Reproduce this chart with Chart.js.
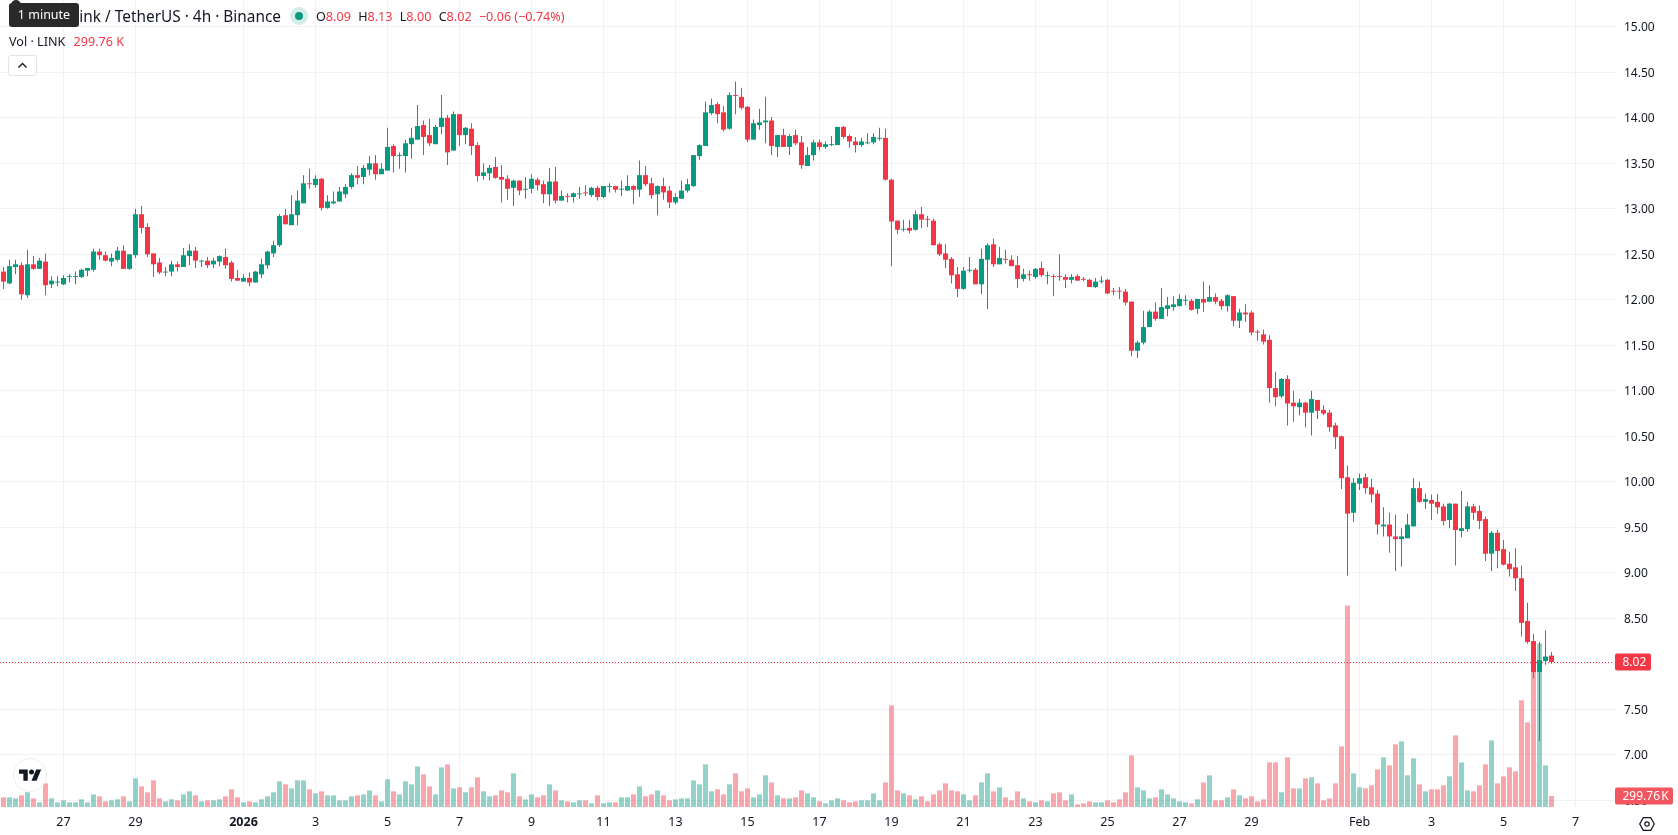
<!DOCTYPE html>
<html>
<head>
<meta charset="utf-8">
<title>LINK / USDT 4h</title>
<script src="https://cdn.jsdelivr.net/npm/chart.js@4"></script>
<style>
    html, body { margin: 0; padding: 0; background: #fff; overflow: hidden; }
    #wrap { position: relative; width: 1678px; height: 835px; font-family: "Noto Sans", sans-serif; color: #131722; }
    #wrap canvas { position: absolute; left: 0; top: 0; }
    .abs { position: absolute; white-space: nowrap; }
    .up { color: #f23645; }
    #title { right: 1397px; top: 6px; font-size: 15.4px; line-height: 22px; }
    #tip { left: 9px; top: 3px; width: 70px; height: 24px; line-height: 23px; background: #2a2a2a; border-radius: 3px; color: #fff; font-size: 12.5px; text-align: center; }
    #notch { left: 11px; top: 0; width: 10px; height: 6px; background: #2a2a2a; border-radius: 5px 5px 0 0; }
    #dot { left: 290px; top: 7px; width: 18px; height: 18px; border-radius: 50%; background: #d3eee9; }
    #dot i { position: absolute; left: 5px; top: 5px; width: 8px; height: 8px; border-radius: 50%; background: #089981; }
    #ohlc { left: 316px; top: 7px; font-size: 12.6px; line-height: 20px; }
    #ohlc span { margin-right: 4px; }
    #vol { left: 9px; top: 32px; font-size: 12.6px; line-height: 20px; }
    #collapse { left: 8px; top: 55px; width: 27px; height: 19px; border: 1px solid #e0e3eb; border-radius: 3px; background: #fff; }
    #logo { left: 13px; top: 758px; width: 32px; height: 32px; border: 1px solid #ececec; border-radius: 50%; background: #fff; }
    #gear { left: 1639px; top: 814px; }
</style>
</head>
<body>
<div id="wrap">
    <canvas id="chart" width="1678" height="835"></canvas>
    <div class="abs" id="title">Chainlink / TetherUS · 4h · Binance</div>
    <div class="abs" id="notch"></div>
    <div class="abs" id="tip">1 minute</div>
    <div class="abs" id="dot"><i></i></div>
    <div class="abs" id="ohlc">
        <span>O<b class="up" style="font-weight:400">8.09</b></span>
        <span>H<b class="up" style="font-weight:400">8.13</b></span>
        <span>L<b class="up" style="font-weight:400">8.00</b></span>
        <span>C<b class="up" style="font-weight:400">8.02</b></span>
        <span class="up">−0.06 (−0.74%)</span>
    </div>
    <div class="abs" id="vol">Vol · LINK <span class="up" style="margin-left:5px">299.76 K</span></div>
    <div class="abs" id="collapse">
        <svg width="27" height="19" viewBox="0 0 27 19"><path d="M9.5 11.5 13.5 7.5 17.5 11.5" fill="none" stroke="#131722" stroke-width="1.3"/></svg>
    </div>
    <div class="abs" id="logo">
        <svg style="position:absolute;left:5px;top:9px" width="22.5" height="14" viewBox="0 2 36 22"><path d="M14 22H7V11H0V4h14v18zM28 22h-8l7.5-18h8L28 22z" fill="#131722"/><circle cx="20" cy="8" r="4" fill="#131722"/></svg>
    </div>
    <div class="abs" id="gear">
        <svg width="16" height="14" viewBox="0 0 16 14"><path d="M4.3.7h7.4L15.3 7l-3.6 6.3H4.3L.7 7z" fill="none" stroke="#131722" stroke-width="1.2"/><circle cx="8" cy="7" r="2.2" fill="none" stroke="#131722" stroke-width="1.2"/></svg>
    </div>
</div>
<script>
// LINK/USDT 4h candles, oldest first
const opens = [
    12.31,12.18,12.36,12.38,12.05,12.39,12.34,12.42,12.17,12.19,
    12.17,12.25,12.25,12.25,12.32,12.33,12.53,12.49,12.42,12.44,
    12.54,12.34,12.49,12.94,12.80,12.51,12.41,12.30,12.31,12.39,
    12.36,12.48,12.54,12.42,12.43,12.39,12.42,12.47,12.41,12.24,
    12.20,12.24,12.19,12.28,12.38,12.51,12.60,12.93,12.82,12.93,
    13.06,13.28,13.26,13.33,13.01,13.06,13.08,13.16,13.24,13.37,
    13.35,13.43,13.50,13.38,13.42,13.69,13.58,13.58,13.71,13.76,
    13.92,13.81,13.71,13.90,14.00,13.64,14.04,13.81,13.88,13.70,
    13.36,13.39,13.46,13.35,13.33,13.23,13.31,13.21,13.22,13.32,
    13.27,13.16,13.30,13.09,13.14,13.13,13.16,13.18,13.15,13.23,
    13.13,13.24,13.25,13.21,13.20,13.25,13.21,13.37,13.28,13.16,
    13.25,13.20,13.07,13.11,13.20,13.25,13.58,13.69,14.05,14.15,
    14.06,13.88,14.25,14.23,14.12,13.76,13.92,13.95,13.97,13.68,
    13.81,13.68,13.81,13.73,13.47,13.59,13.73,13.68,13.70,13.70,
    13.90,13.80,13.74,13.70,13.72,13.73,13.77,13.78,13.32,12.87,
    12.77,12.79,12.77,12.94,12.89,12.87,12.61,12.51,12.45,12.28,
    12.12,12.32,12.33,12.17,12.44,12.61,12.39,12.45,12.44,12.38,
    12.23,12.28,12.25,12.35,12.26,12.26,12.26,12.25,12.22,12.26,
    12.23,12.22,12.14,12.20,12.22,12.10,12.10,12.09,11.98,11.44,
    11.53,11.70,11.87,11.79,11.90,11.92,11.93,11.99,11.99,11.90,
    12.01,11.98,12.03,11.99,11.93,12.04,11.77,11.86,11.86,11.65,
    11.62,11.56,11.03,10.94,11.13,10.87,10.82,10.87,10.76,10.90,
    10.79,10.76,10.62,10.50,10.05,9.66,9.98,10.05,9.94,9.87,
    9.51,9.53,9.40,9.37,9.38,9.51,9.93,9.78,9.80,9.78,
    9.73,9.58,9.76,9.46,9.48,9.73,9.68,9.59,9.21,9.44,
    9.26,9.10,9.06,8.94,8.47,8.25,7.91,8.03,8.09
];
const highs = [
    12.36,12.44,12.44,12.41,12.55,12.48,12.46,12.51,12.26,12.26,
    12.27,12.28,12.31,12.34,12.35,12.56,12.56,12.53,12.51,12.58,
    12.60,12.50,13.00,13.03,12.84,12.51,12.46,12.36,12.43,12.42,
    12.57,12.61,12.58,12.44,12.47,12.46,12.49,12.56,12.43,12.33,
    12.28,12.30,12.32,12.45,12.54,12.65,12.94,13.00,13.15,13.20,
    13.37,13.44,13.37,13.34,13.15,13.19,13.24,13.27,13.39,13.47,
    13.48,13.58,13.59,13.50,13.89,13.71,13.62,13.76,13.89,14.14,
    13.97,13.99,13.92,14.25,14.03,14.07,14.04,13.90,13.94,13.73,
    13.50,13.48,13.57,13.48,13.37,13.32,13.31,13.35,13.38,13.34,
    13.31,13.45,13.46,13.20,13.17,13.18,13.24,13.26,13.24,13.25,
    13.25,13.28,13.25,13.31,13.37,13.26,13.53,13.47,13.34,13.26,
    13.34,13.25,13.17,13.31,13.33,13.59,13.71,14.18,14.21,14.17,
    14.13,14.28,14.40,14.33,14.13,13.98,14.10,14.23,14.01,13.81,
    13.88,13.82,13.87,13.80,13.68,13.76,13.76,13.74,13.80,13.90,
    13.91,13.82,13.79,13.78,13.83,13.83,13.89,13.88,13.33,12.87,
    12.88,12.88,12.98,13.02,12.92,12.89,12.63,12.61,12.47,12.36,
    12.36,12.47,12.35,12.56,12.62,12.67,12.58,12.55,12.49,12.48,
    12.34,12.32,12.35,12.42,12.31,12.28,12.50,12.28,12.28,12.28,
    12.25,12.23,12.24,12.26,12.23,12.13,12.14,12.12,11.98,11.55,
    11.88,11.89,11.97,12.13,12.03,12.04,12.06,12.05,12.01,12.01,
    12.20,12.16,12.07,12.01,12.06,12.04,11.90,11.95,11.88,11.67,
    11.67,11.61,11.21,11.14,11.17,11.00,10.91,10.88,11.00,10.90,
    10.84,10.79,10.65,10.51,10.18,10.04,10.09,10.09,10.03,9.91,
    9.72,9.66,9.64,9.49,9.65,10.04,10.00,9.87,9.86,9.87,
    9.76,9.77,9.76,9.90,9.78,9.76,9.74,9.62,9.46,9.47,
    9.36,9.23,9.27,9.08,8.67,8.33,8.24,8.37,8.13
];
const lows = [
    12.12,12.17,12.28,12.00,12.02,12.33,12.34,12.05,12.13,12.15,
    12.16,12.19,12.17,12.24,12.26,12.31,12.44,12.42,12.37,12.42,
    12.34,12.33,12.46,12.73,12.47,12.25,12.28,12.26,12.26,12.31,
    12.36,12.38,12.35,12.36,12.35,12.35,12.37,12.34,12.20,12.21,
    12.20,12.15,12.19,12.24,12.34,12.47,12.58,12.83,12.82,12.82,
    13.06,13.22,13.23,12.98,13.00,13.05,13.08,13.12,13.22,13.27,
    13.27,13.37,13.32,13.38,13.42,13.40,13.44,13.40,13.55,13.76,
    13.59,13.69,13.71,13.82,13.48,13.64,13.69,13.71,13.59,13.30,
    13.32,13.31,13.33,13.07,13.10,13.03,13.15,13.11,13.17,13.20,
    13.06,13.03,13.06,13.09,13.07,13.07,13.11,13.14,13.13,13.09,
    13.12,13.18,13.18,13.14,13.20,13.05,13.13,13.25,13.11,12.93,
    13.10,13.01,13.05,13.11,13.18,13.24,13.54,13.69,14.03,13.94,
    13.85,13.87,14.04,14.09,13.73,13.76,13.87,13.72,13.59,13.57,
    13.68,13.59,13.70,13.44,13.47,13.53,13.64,13.66,13.69,13.70,
    13.77,13.67,13.62,13.68,13.71,13.71,13.75,13.31,12.37,12.72,
    12.75,12.73,12.76,12.79,12.80,12.60,12.48,12.35,12.18,12.03,
    12.11,12.30,12.17,12.06,11.90,12.36,12.39,12.40,12.37,12.13,
    12.20,12.21,12.23,12.25,12.17,12.04,12.21,12.13,12.18,12.21,
    12.20,12.14,12.13,12.18,12.06,12.05,12.01,11.94,11.38,11.36,
    11.51,11.70,11.77,11.79,11.82,11.88,11.93,11.94,11.88,11.84,
    11.87,11.98,11.95,11.89,11.87,11.71,11.69,11.76,11.61,11.55,
    11.51,10.87,10.83,10.92,10.62,10.66,10.73,10.60,10.51,10.69,
    10.73,10.55,10.36,9.92,8.97,9.56,9.91,9.87,9.77,9.42,
    9.40,9.22,9.02,9.07,9.38,9.51,9.77,9.70,9.58,9.65,
    9.52,9.49,9.08,9.39,9.45,9.58,9.48,9.13,9.02,9.05,
    9.08,8.96,8.80,8.30,8.22,7.84,7.15,7.99,8.00
];
const closes = [
    12.20,12.37,12.39,12.06,12.39,12.34,12.43,12.16,12.21,12.20,
    12.24,12.26,12.26,12.33,12.35,12.53,12.49,12.43,12.46,12.54,
    12.34,12.50,12.94,12.79,12.50,12.39,12.30,12.31,12.39,12.36,
    12.49,12.54,12.43,12.43,12.38,12.43,12.48,12.38,12.23,12.21,
    12.24,12.19,12.31,12.39,12.53,12.60,12.92,12.83,12.94,13.09,
    13.28,13.27,13.33,13.01,13.08,13.08,13.19,13.24,13.37,13.34,
    13.45,13.50,13.38,13.44,13.68,13.58,13.59,13.72,13.78,13.91,
    13.79,13.72,13.90,14.00,13.62,14.04,13.81,13.89,13.69,13.36,
    13.40,13.45,13.34,13.32,13.22,13.31,13.20,13.22,13.33,13.26,
    13.16,13.30,13.09,13.14,13.13,13.17,13.17,13.17,13.23,13.13,
    13.25,13.25,13.21,13.22,13.25,13.21,13.37,13.27,13.15,13.25,
    13.18,13.07,13.13,13.20,13.27,13.59,13.70,14.06,14.14,14.04,
    13.87,14.25,14.24,14.11,13.76,13.94,13.95,13.97,13.69,13.81,
    13.68,13.80,13.72,13.48,13.59,13.73,13.68,13.71,13.71,13.90,
    13.79,13.74,13.70,13.74,13.73,13.79,13.78,13.32,12.86,12.77,
    12.78,12.76,12.94,12.88,12.88,12.60,12.50,12.44,12.27,12.12,
    12.32,12.33,12.17,12.45,12.60,12.39,12.46,12.44,12.37,12.23,
    12.28,12.27,12.34,12.27,12.27,12.25,12.25,12.22,12.25,12.21,
    12.22,12.14,12.20,12.21,12.07,12.09,12.09,11.97,11.44,11.53,
    11.70,11.87,11.79,11.92,11.94,11.95,12.01,12.00,11.89,12.01,
    11.97,12.03,11.98,11.93,12.05,11.77,11.86,11.84,11.64,11.64,
    11.54,11.03,10.93,11.13,10.86,10.83,10.87,10.76,10.91,10.78,
    10.75,10.60,10.49,10.04,9.65,9.99,10.04,9.93,9.86,9.53,
    9.53,9.40,9.37,9.40,9.53,9.93,9.78,9.81,9.76,9.72,
    9.57,9.76,9.47,9.49,9.73,9.66,9.57,9.21,9.44,9.24,
    9.09,9.04,8.94,8.45,8.24,7.91,8.04,8.08,8.02
];
// volume in thousands of LINK
const volumes = [
    263,263,236,318,400,236,127,645,236,127,
    182,127,127,209,127,345,291,154,182,209,
    291,154,781,563,400,726,236,154,209,182,
    345,427,318,154,182,182,209,291,481,263,
    127,154,127,209,291,400,699,617,508,726,
    726,481,372,427,318,318,182,182,291,318,
    345,454,318,154,754,427,345,699,617,1108,
    890,563,345,1081,1162,508,536,400,536,808,
    427,291,318,454,400,917,291,209,345,263,
    318,617,454,182,154,127,182,182,100,318,
    100,127,127,263,263,345,563,291,345,454,
    318,182,209,236,236,726,617,1162,427,481,
    345,617,917,427,508,263,345,863,672,318,
    236,236,263,454,372,263,154,100,182,236,
    182,127,154,182,182,372,182,672,2769,454,
    372,318,209,291,154,345,454,645,454,427,
    345,182,318,672,917,427,536,263,182,427,
    236,154,127,182,154,372,400,182,345,73,
    100,154,127,127,182,127,209,400,1407,536,
    454,236,263,481,345,236,154,127,100,209,
    672,863,182,182,263,481,318,236,291,154,
    209,1217,1217,400,1353,508,508,781,808,645,
    182,236,645,1653,5493,917,536,508,590,1026,
    1353,1135,1707,1789,863,1326,617,427,481,481,
    590,835,1952,1217,454,427,590,1162,1816,645,
    835,1081,972,2906,2306,3995,4458,1135,299.76
];
const tickDates = [
    '2025-12-27','2025-12-29','2026-01-01','2026-01-03','2026-01-05','2026-01-07','2026-01-09',
    '2026-01-11','2026-01-13','2026-01-15','2026-01-17','2026-01-19','2026-01-21','2026-01-23',
    '2026-01-25','2026-01-27','2026-01-29','2026-02-01','2026-02-03','2026-02-05','2026-02-07'
];
const tickLabels = ['27','29','2026','3','5','7','9','11','13','15','17','19','21','23','25','27','29','Feb','3','5','7'];
const priceTicks = [6.5,7,7.5,8,8.5,9,9.5,10,10.5,11,11.5,12,12.5,13,13.5,14,14.5,15];

const FOUR_HOURS = 4 * 3600 * 1000;
const firstCandle = Date.UTC(2025, 11, 25, 8);
const times = opens.map((_, i) => firstCandle + i * FOUR_HOURS);

const green = '#089981';
const red = '#f23645';
const gridColor = '#f1f2f5';
const textColor = '#131722';
const fontFamily = '"Noto Sans", sans-serif';
const isUp = i => closes[i] >= opens[i];
const candleColors = times.map((_, i) => isUp(i) ? green : red);
const volumeColors = times.map((_, i) => isUp(i) ? 'rgba(8,153,129,0.44)' : 'rgba(242,54,69,0.44)');

// last price line and the two axis tags
const lastValuePlugin = {
    id: 'lastValue',
    afterDatasetsDraw(chart) {
        const { ctx, chartArea, scales } = chart;
        const y = Math.round(scales.y.getPixelForValue(closes[closes.length - 1])) + 0.5;
        ctx.save();
        ctx.strokeStyle = red;
        ctx.lineWidth = 1;
        ctx.setLineDash([1, 2]);
        ctx.beginPath();
        ctx.moveTo(chartArea.left, y);
        ctx.lineTo(chartArea.right - 3, y);
        ctx.stroke();
        ctx.restore();
    },
    afterDraw(chart) {
        const { ctx, chartArea, scales } = chart;
        const drawTag = (text, y, width, color) => {
            ctx.save();
            ctx.fillStyle = color;
            ctx.beginPath();
            ctx.roundRect(chartArea.right - 1, y - 8.5, width, 17, 2);
            ctx.fill();
            ctx.fillStyle = '#fff';
            ctx.font = '12px ' + fontFamily;
            ctx.textBaseline = 'middle';
            ctx.fillText(text, chartArea.right + 6.5, y + 0.5);
            ctx.restore();
        };
        drawTag(closes[closes.length - 1].toFixed(2), scales.y.getPixelForValue(closes[closes.length - 1]), 36, red);
        drawTag(volumes[volumes.length - 1].toFixed(2) + '\u200aK', scales.vol.getPixelForValue(volumes[volumes.length - 1]), 58, '#f2565e');
    }
};

new Chart(document.getElementById('chart'), {
    type: 'bar',
    data: {
        datasets: [{
            // volume sits behind the candles
            label: 'Volume',
            data: times.map((t, i) => ({ x: t, y: volumes[i] })),
            backgroundColor: volumeColors,
            yAxisID: 'vol',
            barThickness: 5,
            maxBarThickness: 5,
            inflateAmount: 0,
            grouped: false,
            order: 3
        }, {
            label: 'Wick',
            data: times.map((t, i) => ({ x: t, y: [lows[i], highs[i]] })),
            backgroundColor: candleColors,
            yAxisID: 'y',
            barThickness: 1,
            maxBarThickness: 1,
            inflateAmount: 0,
            grouped: false,
            order: 2
        }, {
            label: 'Body',
            data: times.map((t, i) => ({ x: t, y: [opens[i], closes[i]] })),
            backgroundColor: candleColors,
            yAxisID: 'y',
            barThickness: 5,
            maxBarThickness: 5,
            inflateAmount: 0,
            grouped: false,
            order: 1
        }]
    },
    options: {
        responsive: false,
        animation: false,
        layout: { padding: 0 },
        plugins: { legend: { display: false }, tooltip: { enabled: false } },
        scales: {
            x: {
                type: 'linear',
                offset: false,
                min: firstCandle - 0.5833 * FOUR_HOURS,
                max: firstCandle + 268.75 * FOUR_HOURS,
                grid: { offset: false, color: gridColor, drawTicks: false },
                border: { display: false },
                afterBuildTicks(axis) {
                    axis.ticks = tickDates.map(d => ({ value: Date.parse(d + 'T00:00:00Z') }));
                },
                afterFit(axis) {
                    axis.height = 28;
                    axis.paddingLeft = 0;
                    axis.paddingRight = 0;
                },
                ticks: {
                    autoSkip: false,
                    maxRotation: 0,
                    padding: 8,
                    color: textColor,
                    font: ctx => ({ family: fontFamily, size: 12.5, weight: tickLabels[ctx.index] === '2026' ? 'bold' : 'normal' }),
                    callback: (value, index) => tickLabels[index]
                }
            },
            y: {
                position: 'right',
                min: 6.4264,
                max: 15.2945,
                grid: { color: gridColor, drawTicks: false },
                border: { display: false },
                afterBuildTicks(axis) {
                    axis.ticks = priceTicks.map(v => ({ value: v }));
                },
                afterFit(axis) {
                    axis.width = 62;
                    axis.paddingTop = 0;
                    axis.paddingBottom = 0;
                },
                ticks: {
                    padding: 8,
                    labelOffset: 1,
                    color: textColor,
                    font: { family: fontFamily, size: 12 },
                    callback: value => value.toFixed(2)
                }
            },
            vol: {
                display: false,
                min: 0,
                max: 21990
            }
        }
    },
    plugins: [lastValuePlugin]
});
</script>
</body>
</html>
